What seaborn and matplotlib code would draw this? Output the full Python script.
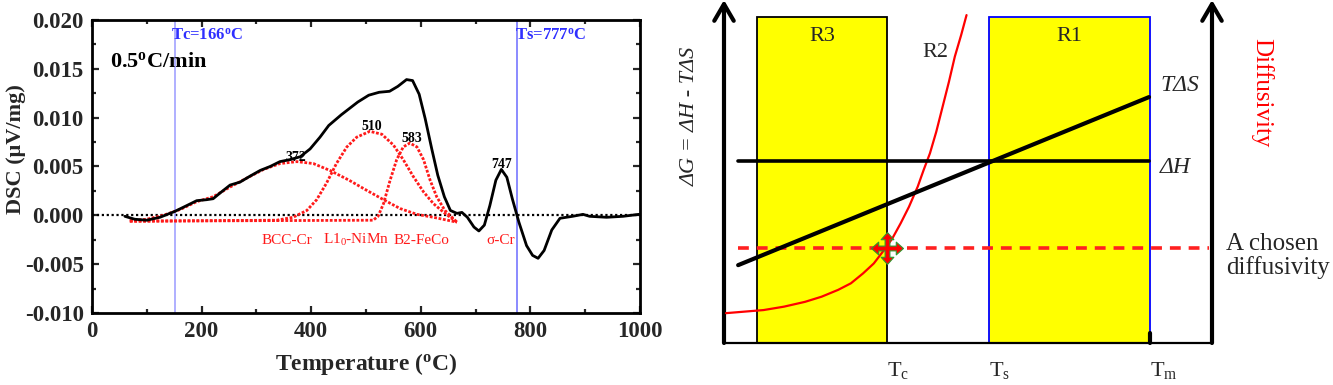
import numpy as np
import pandas as pd
import matplotlib
matplotlib.use('Agg')
import matplotlib.pyplot as plt
import seaborn as sns
from matplotlib.path import Path
from matplotlib.ticker import MultipleLocator, FormatStrFormatter

sns.set_style('ticks')
plt.rcParams['font.family'] = ['Liberation Serif', 'DejaVu Serif']
plt.rcParams['mathtext.fontset'] = 'custom'
plt.rcParams['mathtext.rm'] = 'Liberation Serif'
plt.rcParams['mathtext.it'] = 'Liberation Serif:italic'
plt.rcParams['mathtext.bf'] = 'Liberation Serif:bold'
plt.rcParams['axes.unicode_minus'] = False

# ---- left panel: DSC trace ----
dsc_temp = [60, 78, 100, 124, 151, 173, 191, 209, 221, 234, 252, 270, 288, 307,
            325, 343, 361, 380, 398, 416, 432, 455, 485, 505, 524, 543, 558,
            574, 585, 597, 608, 620, 631, 643, 654, 666, 675, 685, 697, 706, 716,
            726, 737, 747, 757, 767, 779, 793, 804, 814, 825, 839, 854, 877, 896,
            908, 939, 969, 998]
dsc_signal = [-0.0001, -0.0004, -0.0005, -0.0002, 0.0004, 0.0010, 0.0015, 0.0016,
              0.0017, 0.0023, 0.0031, 0.0034, 0.0040, 0.0046, 0.0050, 0.0055,
              0.0057, 0.0060, 0.0068, 0.0080, 0.0092, 0.0103, 0.0116,
              0.0123, 0.0126, 0.0127, 0.0132, 0.0139, 0.0138, 0.0124, 0.0099,
              0.0068, 0.0041, 0.0019, 0.0005, 0.0002, 0.0003, -0.0002, -0.0012,
              -0.0016, -0.0010, 0.0010, 0.0036, 0.0047, 0.0039, 0.0017, -0.0007,
              -0.0031, -0.0041, -0.0044, -0.0036, -0.0015, -0.0003, -0.0001,
              0.0001, -0.0001, -0.0002, -0.0001, 0.0001]

# fitted peaks (dotted red)
bcc_temp = [69, 100, 130, 161, 191, 221, 252, 282, 313, 343, 374, 404, 434, 469,
            500, 532, 562, 593, 623, 666]
bcc_signal = [-0.00055, -0.0004, 0.0000, 0.0006, 0.0014, 0.0019, 0.0029, 0.0038,
              0.0047, 0.0053, 0.0055, 0.0053, 0.0046, 0.0036, 0.0026, 0.0016,
              0.0007, 0.0001, -0.0002, -0.0007]
l10_temp = [69, 337, 367, 392, 410, 428, 446, 465, 483, 507, 529, 550, 568, 586,
            605, 623, 644, 666]
l10_signal = [-0.0006, -0.0005, -0.0002, 0.0005, 0.0016, 0.0033, 0.0053, 0.0070,
              0.0080, 0.0086, 0.0083, 0.0072, 0.0057, 0.0040, 0.0024, 0.0012,
              0.0002, -0.0007]
b2_temp = [69, 513, 522, 532, 544, 556, 568, 580, 593, 605, 617, 629, 644, 666]
b2_signal = [-0.0006, -0.0005, -0.0001, 0.0012, 0.0036, 0.0057, 0.0070, 0.0074,
             0.0070, 0.0057, 0.0036, 0.0019, 0.0005, -0.0007]

peak_temps = [372, 510, 583, 747]
peak_heights = [0.0055, 0.0086, 0.0074, 0.0047]
phase_names = ['BCC-Cr', 'L1$_0$-NiMn', 'B2-FeCo', 'σ-Cr']
phase_temps = [355, 482, 602, 745]

tc_line, ts_line = 151, 776
tc_text, ts_text = 'Tc=166$^{\\mathbf{o}}$C', 'Ts=777$^{\\mathbf{o}}$C'

# ---- right panel: schematic, arbitrary units (T axis 0-100) ----
t_c, t_s, t_m = 33.4, 54.3, 87.3
region_labels = ['R3', 'R1']
region_left = [6.8, t_s]
region_right = [t_c, t_m]
region_edge = ['black', 'blue']
region_top = 95
line_x = [2.9, 87.1]
tds_y = [22.7, 71.7]
dh_y = [53.1, 53.1]
chosen_x = [2.9, 99.4]
chosen_level = 27.7
diff_x = [0.4, 3.8, 8.1, 12.3, 16.6, 20.0, 23.4, 26.0, 28.5, 30.7, 32.8, 34.5,
          36.2, 37.9, 39.7, 40.9, 42.2, 43.5, 44.8, 46.1, 47.3, 48.6, 49.7]
diff_y = [8.7, 9.1, 9.6, 10.6, 12.0, 13.5, 15.5, 17.4, 20.3, 23.2, 27.1, 30.5,
          34.9, 39.7, 45.6, 50.4, 55.3, 61.6, 68.9, 76.2, 83.5, 89.8, 95.6]

fig = plt.figure(figsize=(13.33, 3.85), dpi=100)

# =================== DSC panel ===================
ax = fig.add_axes([92 / 1333, 72 / 385, 548 / 1333, 293 / 385])
red = '#ff1a1a'
ax.axhline(0, color='black', lw=1.6, ls=(0, (1, 1.2)), zorder=1)
ax.axvline(tc_line, color='#9a9aff', lw=1.1, zorder=1)
ax.axvline(ts_line, color='#6b6bff', lw=1.1, zorder=1)

for t, s in [(bcc_temp, bcc_signal), (l10_temp, l10_signal), (b2_temp, b2_signal)]:
    sns.lineplot(x=t, y=s, ax=ax, color=red, lw=2.0, ls=(0, (1, 0.6)),
                 sort=False, estimator=None, zorder=2)
sns.lineplot(x=dsc_temp, y=dsc_signal, ax=ax, color='black', lw=2.0,
             sort=False, estimator=None, zorder=3)

ax.set_xlim(0, 1000)
ax.set_ylim(-0.010, 0.020)
ax.xaxis.set_major_locator(MultipleLocator(200))
ax.xaxis.set_minor_locator(MultipleLocator(100))
ax.yaxis.set_major_locator(MultipleLocator(0.005))
ax.yaxis.set_minor_locator(MultipleLocator(0.0025))
ax.yaxis.set_major_formatter(FormatStrFormatter('%.3f'))
ax.tick_params(which='both', direction='in', top=True, right=True, width=1.6,
               labelsize=16.5, pad=6)
ax.tick_params(which='major', length=5)
ax.tick_params(which='minor', length=3)
for lab in ax.get_xticklabels() + ax.get_yticklabels():
    lab.set_fontweight('bold')
for sp in ax.spines.values():
    sp.set_linewidth(2.0)
    sp.set_color('black')

ax.set_xlabel('Temperature ($\\mathbf{^o}$C)', fontsize=17, fontweight='bold')
ax.set_ylabel('DSC (μV/mg)', fontsize=16, fontweight='bold')
ax.xaxis.set_label_coords(0.5, -0.13)
ax.yaxis.set_label_coords(-0.12, 0.56)

for t, h in zip(peak_temps, peak_heights):
    ax.text(t, h + 0.0001, str(t), ha='center', va='baseline', fontsize=10,
            fontweight='bold', color='black', zorder=4)
for name, t in zip(phase_names, phase_temps):
    ax.text(t, -0.0029, name, ha='center', va='baseline', fontsize=11, color=red)

ax.text(144, 0.0180, tc_text, ha='left', va='baseline', fontsize=12,
        fontweight='bold', color='#2f2fff')
ax.text(772, 0.0180, ts_text, ha='left', va='baseline', fontsize=12,
        fontweight='bold', color='#2f2fff')
ax.text(33, 0.0152, '0.5$\\mathbf{^o}$C/min', ha='left', va='baseline',
        fontsize=16, fontweight='bold', color='black')

# =================== schematic panel ===================
ax2 = fig.add_axes([724 / 1333, 42 / 385, 488 / 1333, 343 / 385])
ax2.set_xlim(0, 100)
ax2.set_ylim(0, 100)
ax2.axis('off')

widths = [r - l for l, r in zip(region_left, region_right)]
ax2.bar(region_left, [region_top] * 2, width=widths, align='edge',
        color='#ffff00', edgecolor=region_edge, linewidth=1.3, zorder=1)

# axes with arrow heads
arrow = dict(arrowstyle='->,head_length=0.6,head_width=0.35', lw=3.0,
             color='black', shrinkA=0, shrinkB=0, mutation_scale=20)
ax2.annotate('', xy=(0, 100), xytext=(0, 0), arrowprops=arrow,
             annotation_clip=False)
ax2.annotate('', xy=(100, 100), xytext=(100, 0), arrowprops=arrow,
             annotation_clip=False)
ax2.plot([0, 100], [0, 0], color='black', lw=1.6, clip_on=False, zorder=2)
ax2.plot([t_m, t_m], [0, 3], color='black', lw=3, clip_on=False, zorder=2)

sns.lineplot(x=diff_x, y=diff_y, ax=ax2, color='red', lw=1.6, sort=False,
             estimator=None, zorder=3)
sns.lineplot(x=line_x, y=dh_y, ax=ax2, color='black', lw=2.6, sort=False,
             estimator=None, zorder=4)
sns.lineplot(x=line_x, y=tds_y, ax=ax2, color='black', lw=3.0, sort=False,
             estimator=None, zorder=4)
sns.lineplot(x=chosen_x, y=[chosen_level] * 2, ax=ax2, color='#ff2020', lw=2.6,
             sort=False, estimator=None, zorder=3)
ax2.lines[-1].set_dashes((3, 2.2))

# four-headed arrow marker at the chosen diffusivity / Tc crossing
cross = Path([(0, 1), (0.4, 0.55), (0.15, 0.55), (0.15, 0.15), (0.55, 0.15),
              (0.55, 0.4), (1, 0), (0.55, -0.4), (0.55, -0.15), (0.15, -0.15),
              (0.15, -0.55), (0.4, -0.55), (0, -1), (-0.4, -0.55), (-0.15, -0.55),
              (-0.15, -0.15), (-0.55, -0.15), (-0.55, -0.4), (-1, 0), (-0.55, 0.4),
              (-0.55, 0.15), (-0.15, 0.15), (-0.15, 0.55), (-0.4, 0.55), (0, 1)])
ax2.plot([t_c], [chosen_level], marker=cross, markersize=23, color='red',
         markeredgecolor='#2e9a2e', markeredgewidth=0.8, zorder=6)

for lab, l, r in zip(region_labels, region_left, region_right):
    ax2.text((l + r) / 2, 89.3, lab, ha='center', va='center', fontsize=16)
ax2.text(43.4, 84.8, 'R2', ha='center', va='center', fontsize=16)

ax2.text(89.5, 75.2, 'TΔS', ha='left', va='center', fontsize=17, style='italic')
ax2.text(89.3, 51.3, 'ΔH', ha='left', va='center', fontsize=17, style='italic')
ax2.text(102.9, 25.4, 'A chosen\ndiffusivity', ha='left', va='center',
         fontsize=18, linespacing=1.05)
ax2.text(110.2, 72.9, 'Diffusivity', ha='center', va='center', fontsize=18,
         rotation=270, color='red')
ax2.text(-7.0, 66, 'ΔG = ΔH - TΔS', ha='center', va='center', fontsize=16,
         rotation=90, style='italic')

for name, t in [('c', t_c), ('s', t_s), ('m', t_m)]:
    ax2.text(t, -9.6, 'T$_\\mathrm{%s}$' % name, ha='left', va='baseline',
             fontsize=16, clip_on=False)

fig.savefig('out.png', dpi=100)
